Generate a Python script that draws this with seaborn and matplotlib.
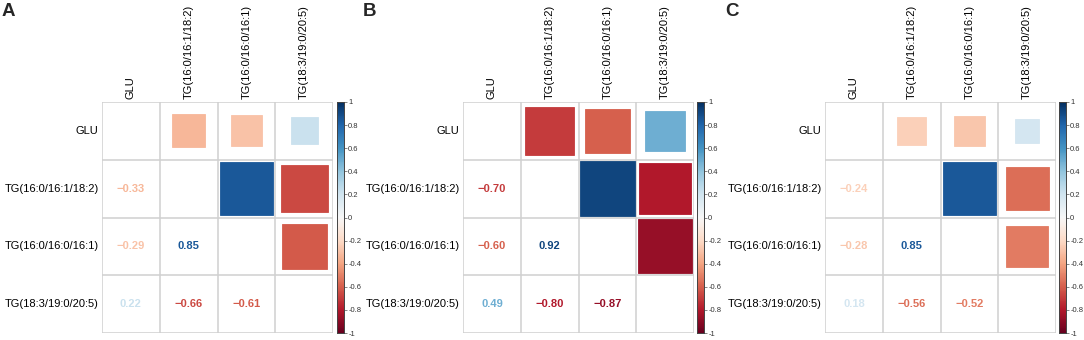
import numpy as np
import pandas as pd
import seaborn as sns
import matplotlib
matplotlib.use("Agg")
import matplotlib.pyplot as plt
from matplotlib.patches import Rectangle

sns.set_style("white")
plt.rcParams['font.family'] = ['Liberation Sans', 'DejaVu Sans']

variables = ["GLU", "TG(16:0/16:1/18:2)", "TG(16:0/16:0/16:1)", "TG(18:3/19:0/20:5)"]
panel_labels = ["A", "B", "C"]
# pairwise correlations in order: (0,1),(0,2),(0,3),(1,2),(1,3),(2,3)
corr_A = [-0.33, -0.29, 0.22, 0.85, -0.66, -0.61]
corr_B = [-0.70, -0.60, 0.49, 0.92, -0.80, -0.87]
corr_C = [-0.24, -0.28, 0.18, 0.85, -0.56, -0.52]
cbar_ticks = [-1, -0.8, -0.6, -0.4, -0.2, 0, 0.2, 0.4, 0.6, 0.8, 1]

pairs = [(0, 1), (0, 2), (0, 3), (1, 2), (1, 3), (2, 3)]


def build_matrix(vals):
    n = len(variables)
    m = np.eye(n)
    for (i, j), v in zip(pairs, vals):
        m[i, j] = v
        m[j, i] = v
    return pd.DataFrame(m, index=variables, columns=variables)


W, H = 1084, 340
fig = plt.figure(figsize=(W / 100, H / 100), dpi=100)
cmap = plt.get_cmap("RdBu")
norm = matplotlib.colors.Normalize(-1, 1)

grid_lefts = [102, 463, 825]
cbar_lefts = [337, 697, 1059]
grid_w = 231
top_px, bot_px = 102, 333
grid_col = "#d0d0d0"

for p, (vals, lab) in enumerate(zip([corr_A, corr_B, corr_C], panel_labels)):
    df = build_matrix(vals)
    ax = fig.add_axes([grid_lefts[p] / W, (H - bot_px) / H, grid_w / W, (bot_px - top_px) / H])
    cax = fig.add_axes([cbar_lefts[p] / W, (H - bot_px) / H, 7 / W, (bot_px - top_px) / H])
    mask = np.ones_like(df.values, dtype=bool)
    sns.heatmap(df, mask=mask, cmap="RdBu", vmin=-1, vmax=1, ax=ax, cbar_ax=cax,
                cbar_kws={"ticks": cbar_ticks}, square=False)
    n = len(variables)
    ax.set_xlim(0, n)
    ax.set_ylim(n, 0)
    for k in range(n + 1):
        ax.axhline(k, color=grid_col, lw=1.1, zorder=1)
        ax.axvline(k, color=grid_col, lw=1.1, zorder=1)
    for i in range(n):
        for j in range(n):
            r = df.values[i, j]
            if j > i:
                s = np.sqrt(abs(r))
                col = cmap(norm(r))
                ax.add_patch(Rectangle((j + 0.5 - s / 2, i + 0.5 - s / 2), s, s,
                                       facecolor=col, edgecolor=col, lw=0.6, zorder=2))
            elif j < i:
                txt = f"{r:.2f}".replace("-", "\u2212")
                ax.text(j + 0.5, i + 0.5, txt, ha="center", va="center",
                        fontsize=8, fontweight="bold", color=cmap(norm(r)), zorder=3)
    ax.xaxis.tick_top()
    ax.set_xticks(np.arange(n) + 0.5)
    ax.set_xticklabels(variables, rotation=90, fontsize=8, color="black")
    ax.set_yticks(np.arange(n) + 0.5)
    ax.set_yticklabels(variables, rotation=0, fontsize=8, color="black")
    ax.tick_params(length=0, pad=2.5)
    ax.set_xlabel("")
    ax.set_ylabel("")
    for sp in ax.spines.values():
        sp.set_visible(False)
    cax.tick_params(labelsize=5.5, length=2, width=0.5, color="#555555", labelcolor="#333333", pad=1)
    cax.set_yticklabels([f"{t:g}" for t in cbar_ticks])
    for sp in cax.spines.values():
        sp.set_visible(True)
        sp.set_color("#444444")
        sp.set_linewidth(0.6)
    fig.text((grid_lefts[p] - 100) / W, 1 - 3 / H, lab, fontsize=13.5, fontweight="bold",
             ha="left", va="top")

fig.savefig("out.png", dpi=100)
